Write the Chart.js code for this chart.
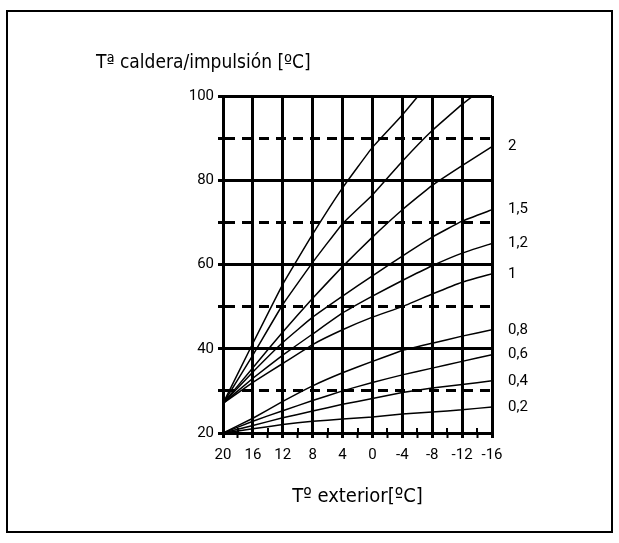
<!DOCTYPE html>
<html>
<head>
<meta charset="utf-8">
<script src="https://cdn.jsdelivr.net/npm/chart.js@4.4.0/dist/chart.umd.min.js"></script>
<style>
	body { margin: 0; background: #fff; }
	canvas { display: block; }
</style>
</head>
<body>
<canvas id="mycanvas" width="619" height="543"></canvas>
<script>
// outdoor temperature (x) and the boiler/flow temperature of each curve
var tempExt = [20, 16, 12, 8, 4, 0, -4, -8, -12, -16];

var curve3   = [27, 41.3, 55.3, 67.2, 78.2, 87.8, 95.5, 104, null, null];
var curve2_5 = [27, 38.5, 50.5, 60.5, 69.7, 76.5, 84.5, 91.8, 98, 103.5];
var curve2   = [27, 35.5, 44, 52, 59.5, 66.5, 73, 78.8, 83.5, 88];
var curve1_5 = [27, 34.5, 41.5, 47.5, 52.5, 57.3, 62, 66.5, 70.3, 73];
var curve1_2 = [27, 33, 38.5, 43.5, 48.5, 52.5, 56.2, 59.7, 62.7, 65];
var curve1   = [27, 32, 36.5, 41, 44.5, 47.5, 50, 53, 55.8, 57.8];
var curve0_8 = [20, 23.5, 27.5, 31.2, 34.3, 37, 39.6, 41.3, 43, 44.5];
var curve0_6 = [20, 22.8, 25.3, 27.7, 30, 32, 33.8, 35.4, 37, 38.6];
var curve0_4 = [20, 21.8, 23.6, 25.2, 26.8, 28.2, 29.6, 30.7, 31.5, 32.4];
var curve0_2 = [20, 21, 22, 22.8, 23.3, 23.8, 24.5, 25, 25.5, 26.2];

var curveNames = ['3', '2,5', '2', '1,5', '1,2', '1', '0,8', '0,6', '0,4', '0,2'];
var curveValues = [curve3, curve2_5, curve2, curve1_5, curve1_2, curve1, curve0_8, curve0_6, curve0_4, curve0_2];

var yTitle = 'Tª caldera/impulsión [ºC]';
var xTitle = 'Tº exterior[ºC]';

var titleFont = '"Liberation Sans Narrow", "DejaVu Sans Condensed", sans-serif';
var tickFont = 'Roboto, "DejaVu Sans", sans-serif';

var datasets = [];
for (var i in curveValues) {
	var pts = [];
	for (var j in tempExt) {
		pts.push({ x: tempExt[j], y: curveValues[i][j] });
	}
	datasets.push({
		label: curveNames[i],
		data: pts,
		borderColor: '#000',
		borderWidth: 1.5,
		pointRadius: 0,
		fill: false,
		tension: 0.1
	});
}

var extras = {
	id: 'extras',
	beforeDraw: function(chart) {
		var ctx = chart.ctx;
		ctx.save();
		ctx.strokeStyle = '#000';
		ctx.lineWidth = 2;
		ctx.strokeRect(7, 11, 605, 521);
		ctx.restore();
	},
	afterDraw: function(chart) {
		var ctx = chart.ctx;
		var area = chart.chartArea;
		var xs = chart.scales.x;
		var ys = chart.scales.y;
		ctx.save();

		// little ticks inside the bottom axis between the main lines
		ctx.strokeStyle = '#000';
		ctx.lineWidth = 2;
		for (var t = 18; t > -16; t -= 4) {
			var px = Math.round(xs.getPixelForValue(t));
			ctx.beginPath();
			ctx.moveTo(px, area.bottom);
			ctx.lineTo(px, area.bottom - 5);
			ctx.stroke();
		}

		// curve names at the right end
		ctx.fillStyle = '#000';
		ctx.font = '15px ' + tickFont;
		ctx.textBaseline = 'middle';
		ctx.textAlign = 'left';
		for (var i in curveValues) {
			var last = curveValues[i][curveValues[i].length - 1];
			if (last !== null && last <= 100) {
				ctx.fillText(curveNames[i], area.right + 16, ys.getPixelForValue(last));
			}
		}

		// axis titles
		ctx.font = '19px ' + titleFont;
		ctx.fillText(yTitle, 96, 63);
		ctx.font = '20px ' + titleFont;
		ctx.textAlign = 'center';
		ctx.fillText(xTitle, (area.left + area.right) / 2, 497);
		ctx.restore();
	}
};

var ctx = document.getElementById('mycanvas');

var heatingChart = new Chart(ctx, {
	type: 'line',
	data: { datasets: datasets },
	plugins: [extras],
	options: {
		responsive: false,
		animation: false,
		devicePixelRatio: 1,
		layout: { padding: { left: 0, top: 96, right: 127, bottom: 0 } },
		plugins: {
			legend: { display: false },
			tooltip: { enabled: false }
		},
		scales: {
			x: {
				type: 'linear',
				reverse: true,
				min: -16,
				max: 20,
				afterFit: function(scale) { scale.height = 110; },
				ticks: {
					stepSize: 2,
					autoSkip: false,
					maxRotation: 0,
					padding: 8,
					color: '#000',
					font: { family: tickFont, size: 15 },
					callback: function(v) { return v % 4 === 0 ? String(v) : ''; }
				},
				grid: {
					lineWidth: 3,
					tickLength: 5,
					color: function(c) { return (c.tick && c.tick.value % 4 !== 0) ? 'rgba(0,0,0,0)' : '#000'; },
					tickColor: '#000',
					tickWidth: function(c) { return (c.tick && c.tick.value % 4 !== 0) ? 2 : 3; }
				},
				border: { color: '#000', width: 3 }
			},
			y: {
				min: 20,
				max: 100,
				afterFit: function(scale) { scale.width = 223; },
				ticks: {
					stepSize: 10,
					padding: 4,
					color: '#000',
					font: { family: tickFont, size: 15 },
					callback: function(v) { return v % 20 === 0 ? String(v) : ''; }
				},
				grid: {
					lineWidth: 3,
					tickLength: 5,
					color: '#000'
				},
				border: {
					color: '#000',
					width: 3,
					dash: function(c) { return (c.tick && c.tick.value % 20 !== 0) ? [10, 7] : []; }
				}
			}
		}
	}
});
</script>
</body>
</html>
